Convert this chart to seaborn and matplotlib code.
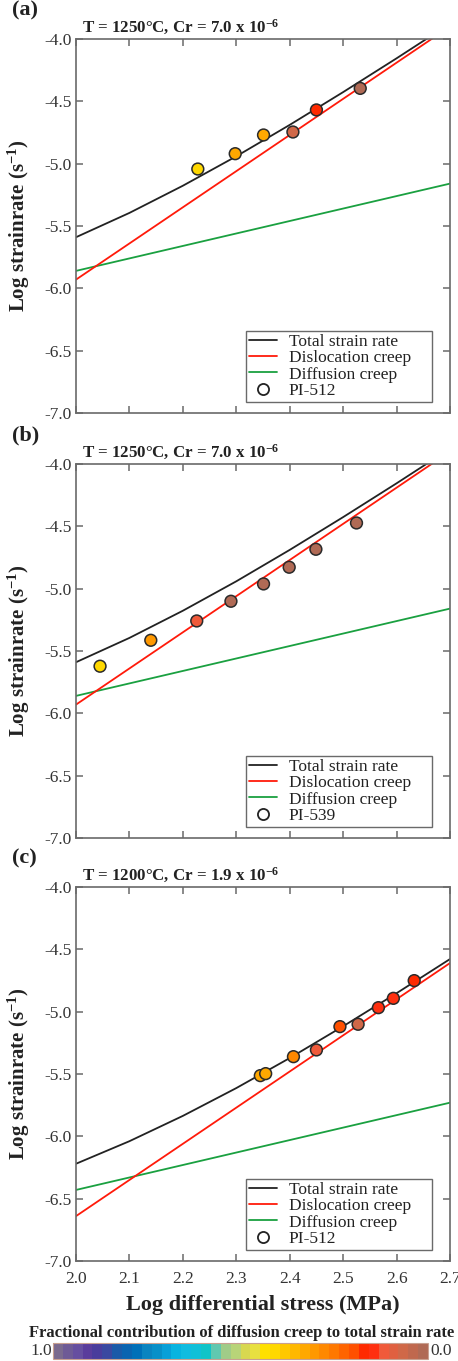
import numpy as np
import pandas as pd
import matplotlib
matplotlib.use("Agg")
import matplotlib.pyplot as plt
import seaborn as sns
from matplotlib.colors import ListedColormap, Normalize
from matplotlib.lines import Line2D
from matplotlib.cm import ScalarMappable

# ---------------- data ----------------
model_x = [2.0, 2.1, 2.2, 2.3, 2.4, 2.5, 2.6, 2.7]
line_x = [2.0, 2.7]

# panels (a) and (b): T = 1250 C, Cr = 7.0e-6
total_ab = [-5.59, -5.395, -5.177, -4.941, -4.689, -4.426, -4.155, -3.877]
disl_ab = [-5.93, -3.90]
diff_ab = [-5.86, -5.16]

# panel (c): T = 1200 C, Cr = 1.9e-6
total_c = [-6.22, -6.039, -5.836, -5.613, -5.372, -5.117, -4.852, -4.578]
disl_c = [-6.64, -4.61]
diff_c = [-6.43, -5.73]

# measured points
a_stress = [2.228, 2.298, 2.351, 2.406, 2.450, 2.532]
a_rate = [-5.043, -4.920, -4.770, -4.746, -4.569, -4.396]
a_frac = [0.42, 0.33, 0.33, 0.07, 0.17, 0.02]

b_stress = [2.045, 2.140, 2.226, 2.290, 2.351, 2.399, 2.449, 2.525]
b_rate = [-5.622, -5.414, -5.259, -5.101, -4.962, -4.828, -4.684, -4.473]
b_frac = [0.41, 0.30, 0.11, 0.02, 0.02, 0.02, 0.02, 0.02]

c_stress = [2.345, 2.355, 2.407, 2.450, 2.494, 2.528, 2.566, 2.594, 2.633]
c_rate = [-5.513, -5.497, -5.361, -5.307, -5.120, -5.101, -4.968, -4.893, -4.751]
c_frac = [0.32, 0.32, 0.28, 0.12, 0.20, 0.06, 0.14, 0.14, 0.17]

titles = ["T = 1250°C, Cr = 7.0 x 10$^{\\mathbf{-6}}$",
          "T = 1250°C, Cr = 7.0 x 10$^{\\mathbf{-6}}$",
          "T = 1200°C, Cr = 1.9 x 10$^{\\mathbf{-6}}$"]
panel_tags = ["(a)", "(b)", "(c)"]
sample_names = ["PI-512", "PI-539", "PI-512"]
legend_labels = ["Total strain rate", "Dislocation creep", "Diffusion creep"]
y_ticks = [-7.0, -6.5, -6.0, -5.5, -5.0, -4.5, -4.0]
x_ticks = [2.0, 2.1, 2.2, 2.3, 2.4, 2.5, 2.6, 2.7]

# colour bar colours, left (1.0) to right (0.0)
cbar_colors = ["#7a6a8e", "#6e5a96", "#664ea0", "#5a3c9c", "#4a3c9c", "#3a48a0",
               "#1a5aa8", "#0a64b0", "#0070b8", "#0a84c0", "#0890c8", "#08a0d8",
               "#08b4e0", "#10bce0", "#10c0d8", "#10c4c8", "#60c8b0", "#a0cc88",
               "#b8d478", "#d8d850", "#e8e040", "#ffe000", "#ffd800", "#ffc800",
               "#ffb800", "#ffa800", "#ff9800", "#ff8800", "#ff7800", "#ff6400",
               "#ff5000", "#ff2a00", "#ff3010", "#f05a3a", "#e06040", "#d06848",
               "#c0684e", "#b06a55"]
cmap = ListedColormap(cbar_colors[::-1])  # value 0 -> brown, 1 -> purple

# ---------------- style ----------------
sns.set_theme(style="ticks")
plt.rcParams["font.family"] = ["Liberation Serif", "DejaVu Serif"]
plt.rcParams["mathtext.fontset"] = "custom"
plt.rcParams["mathtext.rm"] = "Liberation Serif"
plt.rcParams["mathtext.bf"] = "Liberation Serif:bold"
plt.rcParams["mathtext.it"] = "Liberation Serif:italic"

W, H = 458, 1361
fig = plt.figure(figsize=(W / 100, H / 100), dpi=100)

def ax_rect(top_px):
    left, width, height = 76, 374, 374
    return [left / W, 1 - (top_px + height) / H, width / W, height / H]

tops = [39, 464, 887]
datasets = [
    (total_ab, disl_ab, diff_ab, a_stress, a_rate, a_frac),
    (total_ab, disl_ab, diff_ab, b_stress, b_rate, b_frac),
    (total_c, disl_c, diff_c, c_stress, c_rate, c_frac),
]

spine_col = "#6a6a6a"
green = "#1aa040"
txt = "#222222"

for i, (top, ds) in enumerate(zip(tops, datasets)):
    total, disl, diff, sx, sy, sf = ds
    ax = fig.add_axes(ax_rect(top))
    sns.lineplot(x=line_x, y=diff, ax=ax, color=green, lw=1.3, estimator=None, sort=False)
    sns.lineplot(x=line_x, y=disl, ax=ax, color="#ff1a0a", lw=1.3, estimator=None, sort=False)
    sns.lineplot(x=model_x, y=total, ax=ax, color=txt, lw=1.3, estimator=None, sort=False)
    df = pd.DataFrame({"s": sx, "r": sy, "f": sf})
    sns.scatterplot(data=df, x="s", y="r", hue="f", palette=cmap, hue_norm=(0, 1),
                    legend=False, s=72, edgecolor="#2a2a2a", linewidth=1.1, ax=ax, zorder=5)
    ax.set_xlim(2.0, 2.7)
    ax.set_ylim(-7.0, -4.0)
    ax.set_xticks(x_ticks)
    ax.set_yticks(y_ticks)
    ax.set_yticklabels([f"{v:.1f}" for v in y_ticks])
    if i == 2:
        ax.set_xticklabels([f"{v:.1f}" for v in x_ticks])
        ax.set_xlabel("Log differential stress (MPa)", fontsize=16, fontweight="bold",
                      labelpad=6, color=txt)
    else:
        ax.set_xticklabels([])
        ax.set_xlabel("")
    ax.set_ylabel("Log strainrate (s$^{\\mathbf{-1}}$)", fontsize=15, fontweight="bold", color=txt)
    ax.yaxis.set_label_coords(-0.118, 0.5)
    ax.tick_params(direction="in", length=5, width=1.1, color=spine_col,
                   top=True, right=True, labelsize=12.5, pad=3, labelcolor="#333333")
    ax.tick_params(axis="x", pad=7)
    for sp in ax.spines.values():
        sp.set_color(spine_col)
        sp.set_linewidth(1.2)
    ax.text(0.016, 1 + 6 / 374, titles[i], transform=ax.transAxes, fontsize=12.2,
            fontweight="bold", va="baseline", ha="left", color=txt)
    ax.text(-0.172, 1 + 24 / 374, panel_tags[i], transform=ax.transAxes, fontsize=16,
            fontweight="bold", va="baseline", ha="left", color=txt)
    handles = [Line2D([], [], color=txt, lw=1.3),
               Line2D([], [], color="#ff1a0a", lw=1.3),
               Line2D([], [], color=green, lw=1.3),
               Line2D([], [], marker="o", ls="none", mfc="white", mec=txt, ms=8, mew=1.3)]
    leg = ax.legend(handles, legend_labels + [sample_names[i]], loc="lower left",
                    bbox_to_anchor=(0.4545, 0.029, 0.497, 0.2), mode="expand",
                    borderaxespad=0, fontsize=12.5,
                    frameon=True, fancybox=False, framealpha=1, edgecolor=spine_col,
                    handlelength=1.6, handletextpad=0.65, labelspacing=0.0,
                    borderpad=0.2)
    for t in leg.get_texts():
        t.set_color(txt)
    leg.get_frame().set_linewidth(1.0)

# colour bar
cax = fig.add_axes([53 / W, 1 - 1359 / H, 375 / W, 16 / H])
sm = ScalarMappable(norm=Normalize(0, 1), cmap=cmap)
cb = fig.colorbar(sm, cax=cax, orientation="horizontal")
cax.invert_xaxis()
cax.set_xticks([])
cb.outline.set_edgecolor("#c8a090")
cb.outline.set_linewidth(0.8)
fig.text(52 / W, 1 - 1351 / H, "1.0", ha="right", va="center", fontsize=12.5, color="#333333")
fig.text(430 / W, 1 - 1351 / H, "0.0", ha="left", va="center", fontsize=12.5, color="#333333")
fig.text(242 / W, 1 - 1337 / H, "Fractional contribution of diffusion creep to total strain rate",
         ha="center", va="baseline", fontsize=12, fontweight="bold", color=txt)

fig.savefig("out.png", dpi=100)
